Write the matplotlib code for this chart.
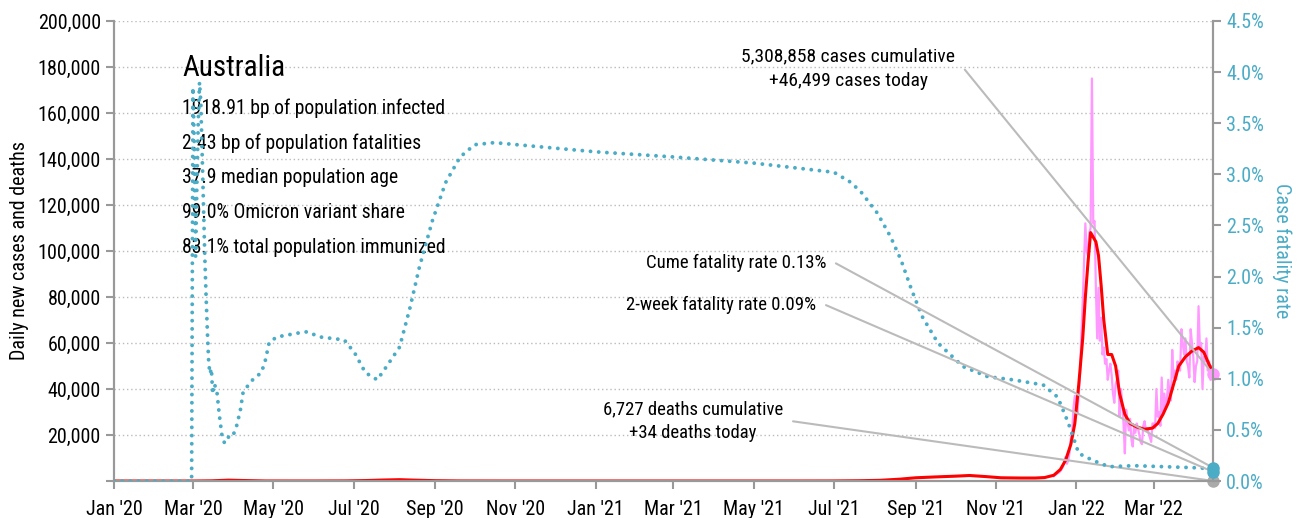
import matplotlib
matplotlib.use("Agg")
import matplotlib.pyplot as plt
import matplotlib.dates as mdates
import matplotlib.ticker as mticker
import pandas as pd

plt.rcParams['font.family'] = ['Roboto Condensed', 'DejaVu Sans']

# 7-day average of new cases (red line)
avg_dates = ["2020-01-01", "2020-03-01", "2020-03-15", "2020-03-28", "2020-04-10", "2020-04-25",
             "2020-06-01", "2020-06-25", "2020-07-10", "2020-07-25", "2020-08-05", "2020-08-15",
             "2020-09-01", "2020-09-20", "2020-11-01", "2021-01-01", "2021-06-01", "2021-07-01",
             "2021-07-20", "2021-08-05", "2021-08-20", "2021-09-01", "2021-09-15", "2021-10-01",
             "2021-10-12", "2021-10-25", "2021-11-05", "2021-11-20", "2021-12-01", "2021-12-08",
             "2021-12-15", "2021-12-20", "2021-12-24", "2021-12-28", "2021-12-31", "2022-01-03",
             "2022-01-06", "2022-01-08", "2022-01-10", "2022-01-12", "2022-01-14", "2022-01-16",
             "2022-01-18", "2022-01-20", "2022-01-22", "2022-01-25", "2022-01-28", "2022-01-31",
             "2022-02-03", "2022-02-07", "2022-02-11", "2022-02-16", "2022-02-22", "2022-02-28",
             "2022-03-04", "2022-03-08", "2022-03-12", "2022-03-16", "2022-03-20", "2022-03-25",
             "2022-03-30", "2022-04-04", "2022-04-08", "2022-04-11", "2022-04-15"]
avg_cases = [0, 0, 80, 370, 200, 20,
             10, 50, 200, 450, 580, 400,
             150, 30, 10, 15, 10, 30,
             120, 300, 800, 1400, 1750, 2100,
             2400, 1900, 1400, 1300, 1300, 1500,
             2500, 5000, 9000, 16000, 25000, 42000,
             62000, 80000, 95000, 108000, 106000, 104000,
             98000, 85000, 70000, 55000, 55000, 50000,
             38000, 29000, 25000, 23500, 22500, 23000,
             25000, 29000, 34000, 42000, 50000, 54000,
             56500, 58000, 56000, 52000, 47000]

# daily new cases (pink line), one value per day from daily_start
daily_start = "2021-12-15"
daily_cases = [2100, 2600, 3000, 3400, 3700, 4300, 5200, 6200, 8500, 10500, 7500, 9000, 12500,
               18500, 21500, 32000, 37000,
               33000, 29000, 38000, 47000, 64000, 78000, 95000, 112000, 100000, 98000, 108000,
               110000, 175000, 112000, 113000, 84000, 62000, 84000, 61000, 71000, 55000, 58000,
               51000, 53000, 44000, 48000, 51000, 46000, 38000, 34000, 42000,
               44000, 48000, 28000, 40000, 34000, 25000, 12000, 31000, 26000, 22000, 27000,
               18000, 15000, 24000, 21000, 25000, 23000, 20000, 17000, 16000, 24000, 26000,
               22000, 23000, 21000, 19000, 17000, 25000,
               25000, 23000, 40000, 28000, 30000, 24000, 45000, 30000, 38000, 32000, 36000,
               44000, 38000, 35000, 57000, 45000, 48000, 44000, 52000, 50000, 48000, 66000,
               60000, 55000, 62000, 52000, 50000, 45000, 66000, 60000, 54000,
               43000, 50000, 52000, 76000, 58000, 60000, 40000, 54000, 52000, 62000, 48000,
               52000, 44000, 50000, 46499]

# 7-day average of deaths
death_dates = ["2020-01-01", "2020-03-01", "2020-04-05", "2020-05-01", "2020-08-10", "2020-09-15",
               "2020-11-01", "2021-08-01", "2021-10-01", "2021-12-01", "2022-01-20", "2022-02-10",
               "2022-03-10", "2022-04-15"]
death_avg = [0, 0, 5, 1, 18, 5, 0, 0, 12, 3, 75, 40, 30, 34]

# cumulative case fatality rate, %
cfr_dates = ["2020-01-01", "2020-02-29", "2020-03-01", "2020-03-02", "2020-03-03", "2020-03-04",
             "2020-03-05", "2020-03-06", "2020-03-07", "2020-03-08", "2020-03-09", "2020-03-10",
             "2020-03-11", "2020-03-12", "2020-03-13", "2020-03-14", "2020-03-15", "2020-03-16",
             "2020-03-17", "2020-03-19", "2020-03-21", "2020-03-23", "2020-03-25", "2020-03-28",
             "2020-03-31", "2020-04-03", "2020-04-06", "2020-04-08", "2020-04-11", "2020-04-16",
             "2020-04-22", "2020-04-25", "2020-04-28", "2020-05-04", "2020-05-21", "2020-05-27",
             "2020-06-05", "2020-06-24", "2020-07-02", "2020-07-10", "2020-07-19", "2020-07-25",
             "2020-08-05", "2020-08-13", "2020-08-20", "2020-08-30", "2020-09-09", "2020-09-20",
             "2020-10-01", "2020-10-16", "2020-11-19", "2021-01-01", "2021-03-01", "2021-05-01",
             "2021-07-01", "2021-07-14", "2021-07-22", "2021-08-03", "2021-08-13", "2021-08-21",
             "2021-08-29", "2021-09-06", "2021-09-18", "2021-10-07", "2021-10-26", "2021-11-14",
             "2021-12-07", "2021-12-18", "2021-12-26", "2022-01-03", "2022-01-14", "2022-01-26",
             "2022-02-14", "2022-03-09", "2022-04-01", "2022-04-15"]
cfr_pct = [0, 0, 3.85, 3.3, 2.2, 2.9,
           3.5, 3.9, 3.7, 3.2, 2.7, 2.2,
           1.8, 1.45, 1.15, 1.05, 1.1, 0.85,
           0.95, 0.9, 0.65, 0.45, 0.37, 0.43,
           0.43, 0.53, 0.69, 0.86, 0.92, 1.0,
           1.06, 1.18, 1.36, 1.41, 1.45, 1.46,
           1.41, 1.38, 1.25, 1.06, 0.99, 1.1,
           1.31, 1.7, 2.09, 2.55, 2.92, 3.17,
           3.29, 3.31, 3.27, 3.22, 3.17, 3.11,
           3.02, 2.92, 2.82, 2.62, 2.39, 2.16,
           1.87, 1.61, 1.35, 1.12, 1.02, 0.99,
           0.94, 0.82, 0.57, 0.27, 0.2, 0.14,
           0.15, 0.14, 0.13, 0.12]

stats = ["1918.91 bp of population infected",
         "2.43 bp of population fatalities",
         "37.9 median population age",
         "99.0% Omicron variant share",
         "83.1% total population immunized"]

cases_cum = 5308858
deaths_cum = 6727
deaths_today = 34
cume_cfr = 0.13
two_week_cfr = 0.09

blue = '#4bacc6'
pink = '#ff99ff'
axis_grey = '#999999'
line_grey = '#bbbbbb'

avg_dates = pd.to_datetime(avg_dates)
death_dates = pd.to_datetime(death_dates)
cfr_dates = pd.to_datetime(cfr_dates)
daily_dates = pd.date_range(daily_start, periods=len(daily_cases))
end = daily_dates[-1]

fig = plt.figure(figsize=(13.07, 5.18), dpi=100)
ax = fig.add_axes([0.0872, 0.0714, 0.8409, 0.8881])
ax2 = ax.twinx()

ax.plot(daily_dates, daily_cases, color=pink, lw=1.6, zorder=2)
ax.plot(avg_dates, avg_cases, color='red', lw=2.2, zorder=3)
ax.plot(death_dates, death_avg, color='#888888', lw=1, zorder=3)
ax2.plot(cfr_dates, cfr_pct, color=blue, lw=2.8, linestyle=(0, (0.01, 2.1)),
         dash_capstyle='round', zorder=3)

# end markers
ax.plot([end], [daily_cases[-1]], 'o', color=pink, ms=8, clip_on=False, zorder=6)
ax.plot([end], [deaths_today], 'o', color='#aaaaaa', ms=8, clip_on=False, zorder=6)
ax2.plot([end], [cume_cfr], 'o', color=blue, ms=8, clip_on=False, zorder=6)
ax2.plot([end], [two_week_cfr], 'o', color=blue, ms=8, clip_on=False, zorder=6)

ax.set_xlim(pd.Timestamp("2020-01-01"), end)
ax.set_ylim(0, 200000)
ax2.set_ylim(0, 4.5)

ax.xaxis.set_major_locator(mdates.MonthLocator(bymonth=[1, 3, 5, 7, 9, 11]))
ax.xaxis.set_major_formatter(mdates.DateFormatter("%b '%y"))
ax.yaxis.set_major_locator(mticker.MultipleLocator(20000))
ax.yaxis.set_major_formatter(mticker.FuncFormatter(lambda v, p: "" if v == 0 else f"{v:,.0f}"))
ax2.yaxis.set_major_locator(mticker.MultipleLocator(0.5))
ax2.yaxis.set_major_formatter(mticker.FuncFormatter(lambda v, p: f"{v:.1f}%"))

for a in (ax, ax2):
    a.spines['top'].set_visible(False)
    for s in ('left', 'right', 'bottom'):
        a.spines[s].set_color(axis_grey)
        a.spines[s].set_linewidth(1.5)
    a.tick_params(direction='out', length=6, width=1.5, color=axis_grey, labelsize=14.5)
ax.tick_params(axis='x', pad=8)
ax2.tick_params(axis='y', labelcolor=blue)

ax.yaxis.grid(True, linestyle=(0, (1, 2)), color=line_grey, lw=1)
ax.set_axisbelow(True)

ax.set_ylabel("Daily new cases and deaths", fontsize=14.5, labelpad=6)
ax2.set_ylabel("Case fatality rate", fontsize=14.5, color=blue, rotation=270, labelpad=20)

# country block
ax.text(0.062, 0.898, "Australia", transform=ax.transAxes, fontsize=21, va='center')
for i, s in enumerate(stats):
    ax.text(0.062, 0.811 - i * 0.076, s, transform=ax.transAxes, fontsize=14.2, va='center')

conn = "arc,angleA=0,armA=9,rad=0"
ax.annotate(f"{cases_cum:,} cases cumulative\n+{daily_cases[-1]:,} cases today",
            xy=(end, daily_cases[-1]), xytext=(0.668, 0.896), textcoords='axes fraction',
            ha='center', va='center', fontsize=14, linespacing=1.45,
            arrowprops=dict(arrowstyle='-', color=line_grey, lw=1.5, relpos=(1, 0.5),
                            connectionstyle=conn, shrinkA=5, shrinkB=0))
ax2.annotate(f"Cume fatality rate {cume_cfr:.2f}%",
             xy=(end, cume_cfr), xytext=(0.648, 0.474), textcoords='axes fraction',
             ha='right', va='center', fontsize=13.5,
             arrowprops=dict(arrowstyle='-', color=line_grey, lw=1.5, relpos=(1, 0.5),
                             connectionstyle=conn, shrinkA=5, shrinkB=0))
ax2.annotate(f"2-week fatality rate {two_week_cfr:.2f}%",
             xy=(end, two_week_cfr), xytext=(0.639, 0.383), textcoords='axes fraction',
             ha='right', va='center', fontsize=13.5,
             arrowprops=dict(arrowstyle='-', color=line_grey, lw=1.5, relpos=(1, 0.5),
                             connectionstyle=conn, shrinkA=5, shrinkB=0))
ax.annotate(f"{deaths_cum:,} deaths cumulative\n+{deaths_today} deaths today",
            xy=(end, deaths_today), xytext=(0.527, 0.130), textcoords='axes fraction',
            ha='center', va='center', fontsize=13.5, linespacing=1.4,
            arrowprops=dict(arrowstyle='-', color=line_grey, lw=1.5, relpos=(1, 0.5),
                            connectionstyle=conn, shrinkA=5, shrinkB=0))

fig.savefig("out.png", dpi=100)
